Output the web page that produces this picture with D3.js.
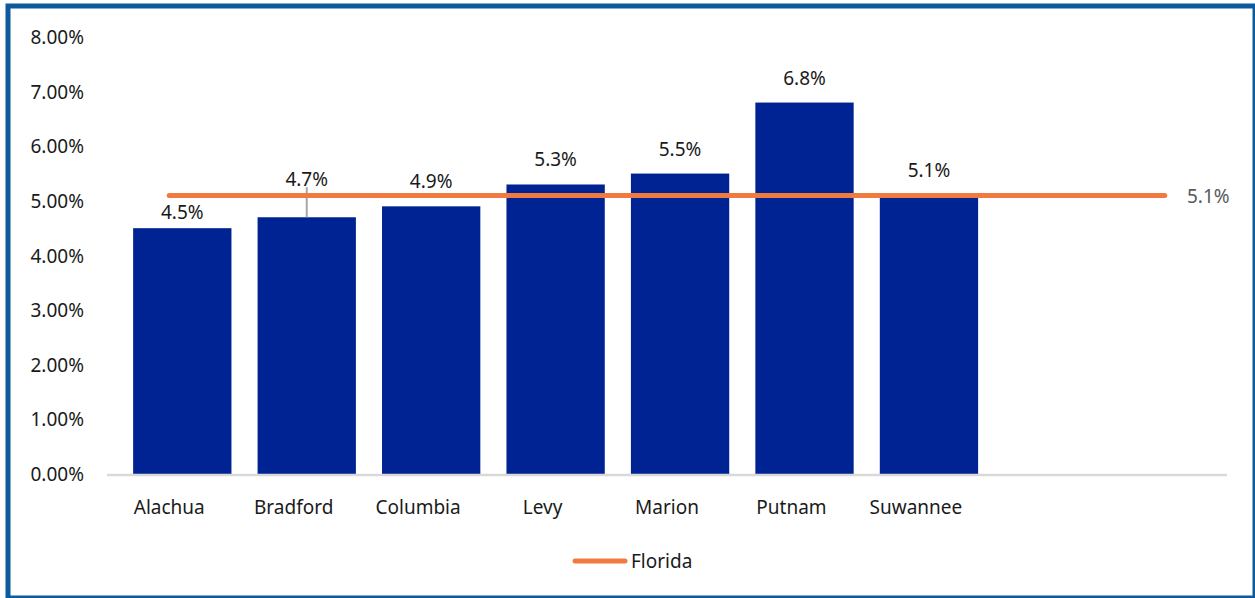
<!DOCTYPE html>
<html>
<head>
<meta charset="utf-8">
<script src="https://cdn.jsdelivr.net/npm/d3@7"></script>
<style>
  body { margin: 0; background: #fff; }
  text { font-family: "Noto Sans", sans-serif; }
</style>
</head>
<body>
<svg id="chart" width="1255" height="598"></svg>
<script>
// data
var counties = ["Alachua", "Bradford", "Columbia", "Levy", "Marion", "Putnam", "Suwannee", "", " "];
var rates = [4.5, 4.7, 4.9, 5.3, 5.5, 6.8, 5.1];
var floridaRate = 5.1;
var yTicks = [0, 1, 2, 3, 4, 5, 6, 7, 8];
// labels nudged in the original so they do not sit on the Florida line
var labelNudge = {"Alachua": 9, "Bradford": -13};

var svg = d3.select("#chart");
var margin = {left: 107, right: 28, top: 37, bottom: 124};
var width = 1255, height = 598;

var x = d3.scaleBand()
    .domain(counties)
    .range([margin.left, width - margin.right]);
var y = d3.scaleLinear()
    .domain([0, 8])
    .range([height - margin.bottom, margin.top]);

var bw = x.bandwidth();
var barOffset = 0.21 * bw;   // bars sit on the right side of each slot

// frame
svg.append("rect")
    .attr("x", 8).attr("y", 6)
    .attr("width", 1247).attr("height", 592)
    .attr("fill", "none")
    .attr("stroke", "#0d5a9c")
    .attr("stroke-width", 5);

// y labels
svg.append("g").selectAll("text")
    .data(yTicks).enter().append("text")
    .attr("x", 84)
    .attr("y", function(d) { return y(d) + 7; })
    .attr("text-anchor", "end")
    .attr("font-size", 19)
    .attr("fill", "#1a1a1a")
    .text(function(d) { return d.toFixed(2) + "%"; });

// bars
var data = rates.map(function(v, i) { return {name: counties[i], value: v}; });
svg.append("g").selectAll("rect")
    .data(data).enter().append("rect")
    .attr("x", function(d) { return x(d.name) + barOffset; })
    .attr("y", function(d) { return y(d.value); })
    .attr("width", bw - barOffset)
    .attr("height", function(d) { return y(0) - y(d.value); })
    .attr("fill", "#002394");

// x axis line
svg.append("line")
    .attr("x1", margin.left).attr("x2", width - margin.right)
    .attr("y1", y(0) + 1).attr("y2", y(0) + 1)
    .attr("stroke", "#d9d9d9").attr("stroke-width", 2.5);

// category labels
svg.append("g").selectAll("text")
    .data(counties.slice(0, rates.length)).enter().append("text")
    .attr("x", function(d) { return x(d) + bw / 2; })
    .attr("y", 514)
    .attr("text-anchor", "middle")
    .attr("font-size", 19)
    .attr("fill", "#1a1a1a")
    .text(function(d) { return d; });

// leader line for the moved Bradford label
var brad = data[1];
svg.append("line")
    .attr("x1", x(brad.name) + barOffset + (bw - barOffset) / 2)
    .attr("x2", x(brad.name) + barOffset + (bw - barOffset) / 2)
    .attr("y1", y(brad.value)).attr("y2", y(brad.value) - 30)
    .attr("stroke", "#a6a6a6").attr("stroke-width", 2);

// Florida line
var line = d3.line()
    .x(function(d) { return x(d) + bw / 2; })
    .y(function() { return y(floridaRate); });
svg.append("path")
    .datum(counties)
    .attr("d", line)
    .attr("fill", "none")
    .attr("stroke", "#f07a40")
    .attr("stroke-width", 5)
    .attr("stroke-linecap", "round");

// value labels
svg.append("g").selectAll("text")
    .data(data).enter().append("text")
    .attr("x", function(d) { return x(d.name) + barOffset + (bw - barOffset) / 2; })
    .attr("y", function(d) { return y(d.value) - 18 + (labelNudge[d.name] || 0); })
    .attr("text-anchor", "middle")
    .attr("font-size", 19)
    .attr("fill", "#1a1a1a")
    .text(function(d) { return d.value.toFixed(1) + "%"; });

svg.append("text")
    .attr("x", 1187)
    .attr("y", y(floridaRate) + 8)
    .attr("font-size", 19)
    .attr("fill", "#595959")
    .text(floridaRate.toFixed(1) + "%");

// legend
var lg = svg.append("g");
lg.append("line")
    .attr("x1", 575).attr("x2", 625)
    .attr("y1", 561).attr("y2", 561)
    .attr("stroke", "#f07a40").attr("stroke-width", 5)
    .attr("stroke-linecap", "round");
lg.append("text")
    .attr("x", 631).attr("y", 568)
    .attr("font-size", 19)
    .attr("fill", "#1a1a1a")
    .text("Florida");
</script>
</body>
</html>
